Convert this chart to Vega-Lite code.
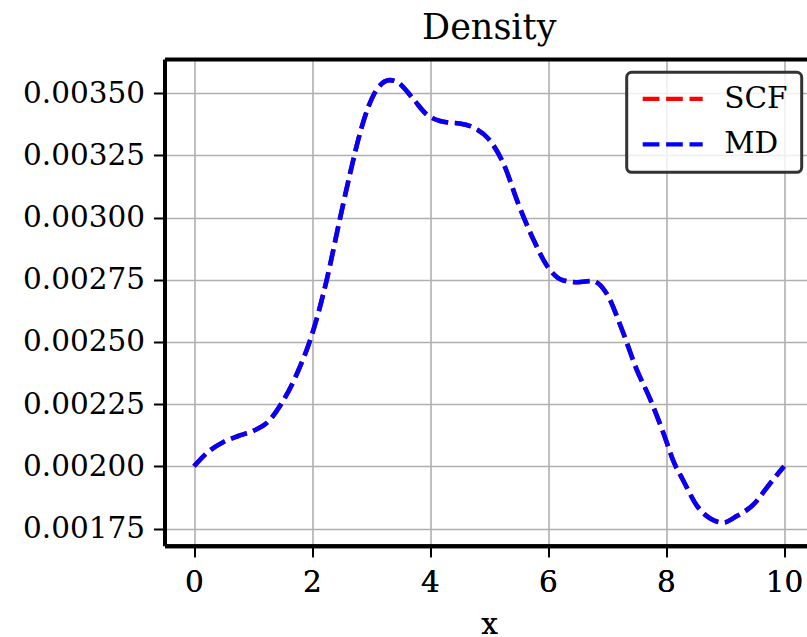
{
  "$schema": "https://vega.github.io/schema/vega-lite/v6.json",
  "width": 642.5,
  "height": 486.7,
  "autosize": {"type": "none"},
  "padding": {"left": 164.5, "top": 59, "right": 0, "bottom": 91.3},
  "background": "white",
  "title": {
    "text": "Density",
    "font": "DejaVu Serif",
    "fontSize": 35,
    "fontWeight": "normal",
    "color": "black",
    "anchor": "middle",
    "dx": 3.5,
    "baseline": "alphabetic",
    "offset": -15
  },
  "config": {
    "view": {"stroke": null},
    "axis": {
      "labelFont": "DejaVu Serif",
      "labelFontSize": 29.5,
      "labelColor": "black",
      "titleFont": "DejaVu Serif",
      "titleFontSize": 29.5,
      "titleFontWeight": "normal",
      "titleColor": "black",
      "domainColor": "black",
      "domainWidth": 4,
      "tickColor": "black",
      "tickWidth": 2,
      "tickSize": 11,
      "gridColor": "#b0b0b0",
      "gridWidth": 1.6,
      "gridOpacity": 1
    }
  },
  "datasets": {
    "curve": [
      {"x": 0.0, "v": 0.002000},
      {"x": 0.25, "v": 0.002060},
      {"x": 0.5, "v": 0.002098},
      {"x": 0.75, "v": 0.002122},
      {"x": 1.0, "v": 0.002142},
      {"x": 1.25, "v": 0.002178},
      {"x": 1.5, "v": 0.002259},
      {"x": 1.75, "v": 0.002375},
      {"x": 2.0, "v": 0.002530},
      {"x": 2.25, "v": 0.002750},
      {"x": 2.46, "v": 0.002980},
      {"x": 2.63, "v": 0.003161},
      {"x": 2.84, "v": 0.003361},
      {"x": 2.95, "v": 0.003441},
      {"x": 3.12, "v": 0.003522},
      {"x": 3.32, "v": 0.003552},
      {"x": 3.46, "v": 0.003542},
      {"x": 3.72, "v": 0.003475},
      {"x": 3.94, "v": 0.003415},
      {"x": 4.17, "v": 0.003388},
      {"x": 4.34, "v": 0.003381},
      {"x": 4.5, "v": 0.003378},
      {"x": 4.75, "v": 0.003360},
      {"x": 5.0, "v": 0.003314},
      {"x": 5.25, "v": 0.003214},
      {"x": 5.5, "v": 0.003053},
      {"x": 5.75, "v": 0.002913},
      {"x": 6.0, "v": 0.002800},
      {"x": 6.25, "v": 0.002748},
      {"x": 6.5, "v": 0.002740},
      {"x": 6.75, "v": 0.002745},
      {"x": 7.0, "v": 0.002692},
      {"x": 7.25, "v": 0.002552},
      {"x": 7.5, "v": 0.002391},
      {"x": 7.73, "v": 0.002271},
      {"x": 7.98, "v": 0.002118},
      {"x": 8.12, "v": 0.002024},
      {"x": 8.29, "v": 0.001944},
      {"x": 8.52, "v": 0.001843},
      {"x": 8.75, "v": 0.001790},
      {"x": 8.97, "v": 0.001774},
      {"x": 9.2, "v": 0.001800},
      {"x": 9.48, "v": 0.001846},
      {"x": 9.76, "v": 0.001930},
      {"x": 10.0, "v": 0.002000}
    ]
  },
  "data": {"name": "curve"},
  "encoding": {
    "x": {
      "field": "x",
      "type": "quantitative",
      "scale": {"domain": [-0.5, 10.3898], "nice": false, "zero": false},
      "axis": {
        "orient": "bottom",
        "values": [0, 2, 4, 6, 8, 10],
        "format": "d",
        "title": "x",
        "labelPadding": 12,
        "titleX": 324.5,
        "titleY": 87.3,
        "titleAlign": "center",
        "titleBaseline": "alphabetic"
      }
    },
    "y": {
      "field": "v",
      "type": "quantitative",
      "scale": {"domain": [0.001681, 0.003637], "nice": false, "zero": false},
      "axis": {
        "values": [0.00175, 0.002, 0.00225, 0.0025, 0.00275, 0.003, 0.00325, 0.0035],
        "format": ".5f",
        "title": null,
        "labelPadding": 9
      }
    }
  },
  "layer": [
    {
      "mark": {"type": "line", "strokeWidth": 4.6, "strokeDash": [16.7, 6.7], "interpolate": "monotone"},
      "encoding": {
        "color": {
          "datum": "SCF",
          "type": "nominal",
          "scale": {"domain": ["SCF", "MD"], "range": ["red", "blue"]},
          "legend": {
            "orient": "none",
            "legendX": 462.2,
            "legendY": 13.3,
            "title": null,
            "labelFont": "DejaVu Serif",
            "labelFontSize": 29.5,
            "labelColor": "black",
            "labelOffset": 19,
            "symbolType": "stroke",
            "symbolSize": 3600,
            "symbolStrokeWidth": 4.3,
            "symbolDash": [16.7, 6.7],
            "padding": 13.5,
            "rowPadding": 15.5,
            "strokeColor": "#333333",
            "fillColor": "rgba(255,255,255,0.8)",
            "cornerRadius": 5,
            "encode": {
              "legend": {"update": {"strokeWidth": {"value": 3}}},
              "symbols": {"update": {"y": {"value": 13}}},
              "labels": {"update": {"y": {"value": 13}}}
            }
          }
        }
      }
    },
    {
      "mark": {"type": "line", "strokeWidth": 4.6, "strokeDash": [16.7, 6.7], "interpolate": "monotone"},
      "encoding": {
        "color": {"datum": "MD", "type": "nominal"}
      }
    },
    {
      "mark": {"type": "line", "strokeOpacity": 0},
      "encoding": {
        "x": {
          "field": "x",
          "type": "quantitative",
          "axis": {"orient": "top", "labels": false, "ticks": false, "grid": false, "title": null, "domain": true}
        }
      }
    }
  ],
  "resolve": {"axis": {"x": "independent"}}
}
